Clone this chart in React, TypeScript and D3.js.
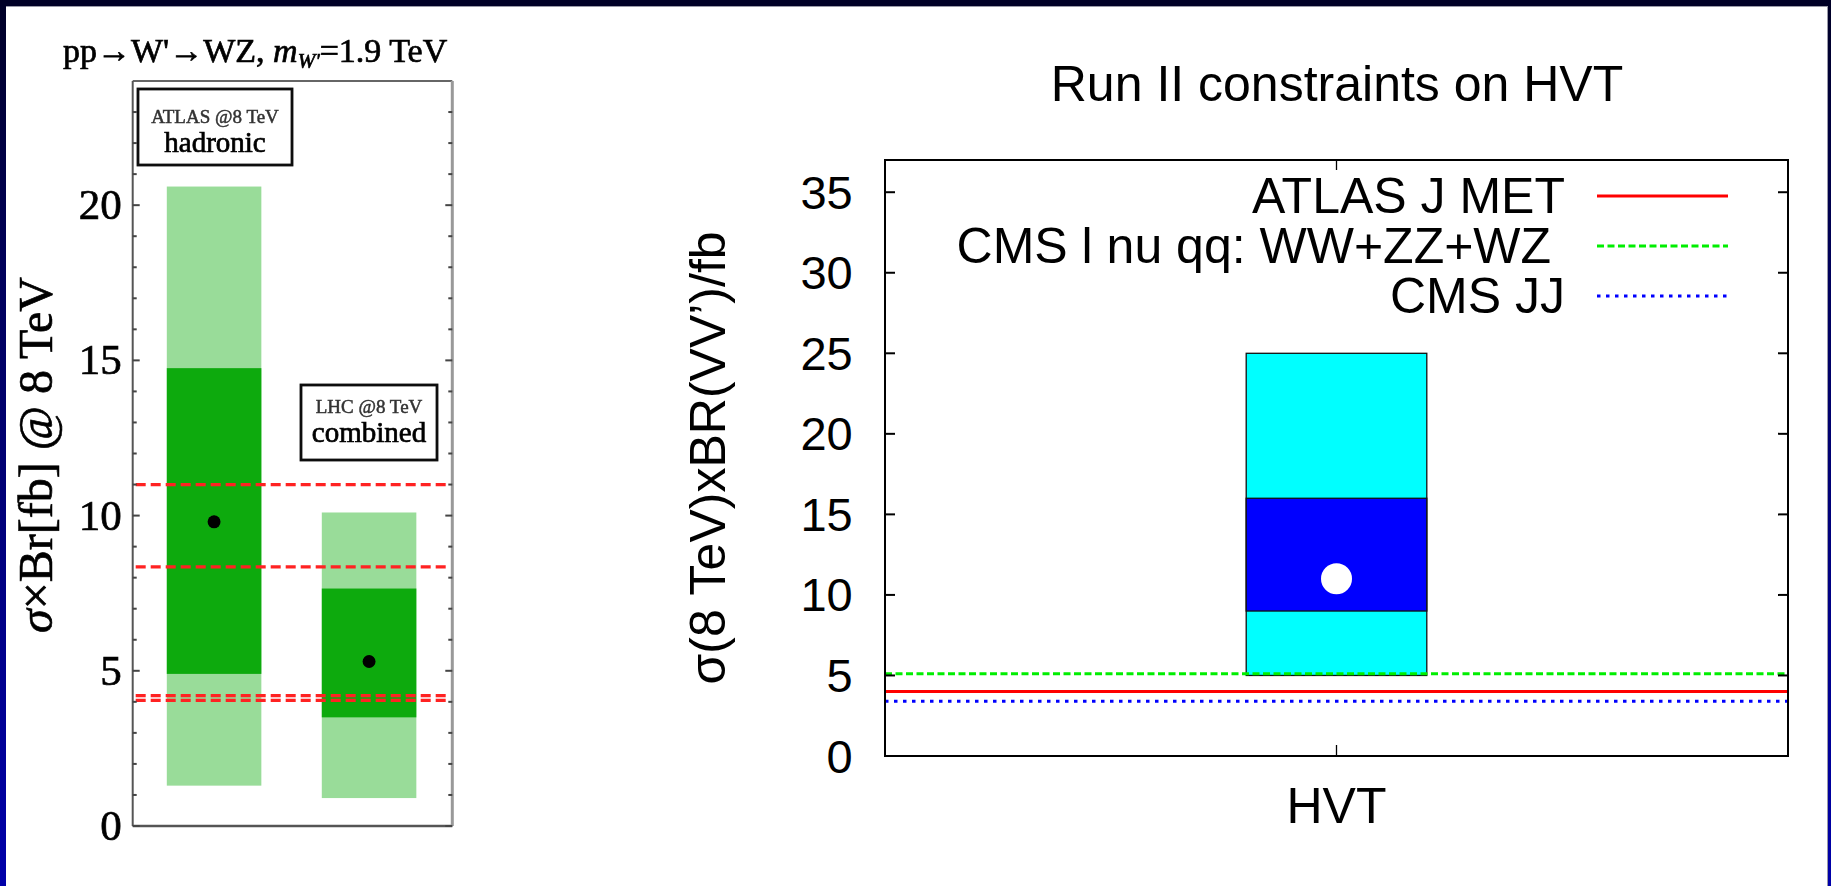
import React from "react";
import * as d3 from "d3";

const W = 1831;
const H = 886;

// ---- Left panel: pp -> W' -> WZ, m_W' = 1.9 TeV (sigma x Br in fb at 8 TeV) ----
const wzPositions = [1, 2];
const wzTagTop = ["ATLAS @8 TeV", "LHC @8 TeV"];
const wzTagBottom = ["hadronic", "combined"];
const wzOuterLow = [1.3, 0.9];
const wzOuterHigh = [20.6, 10.1];
const wzInnerLow = [4.9, 3.5];
const wzInnerHigh = [14.75, 7.65];
const wzCentral = [9.8, 5.3];
const wzLimitLines = [11.0, 8.35, 4.2, 4.05];
const wzMajorTicks = [0, 5, 10, 15, 20];

// ---- Right panel: Run II constraints on HVT ----
const hvtCategories = ["HVT"];
const hvtPositions = [1];
const hvtOuterLow = [5];
const hvtOuterHigh = [25];
const hvtInnerLow = [9];
const hvtInnerHigh = [16];
const hvtCentral = [11];
const limitNames = ["ATLAS J MET", "CMS l nu qq: WW+ZZ+WZ ", "CMS JJ"];
const limitValues = [4.0, 5.1, 3.4];
const hvtTicks = [0, 5, 10, 15, 20, 25, 30, 35];

const limitColors = ["#ff0000", "#00ee00", "#0000ff"];
const limitDash = [undefined, "7,3.5", "3.5,5.5"];

const serif = "'Liberation Serif', 'Times New Roman', serif";
const sans = "'Liberation Sans', Arial, Helvetica, sans-serif";

export default function App() {
  // left panel scales
  const yL = d3.scaleLinear().domain([0, 24]).range([826, 81]);
  const xL = d3.scaleLinear().domain([0.475, 2.537]).range([132.7, 452.3]);
  const halfL = 0.305;
  const minorL = d3.range(1, 24).filter((v) => v % 5 !== 0);
  const [lx0, lx1] = xL.range();
  const [ly0, ly1] = yL.range();

  // right panel scales
  const yR = d3.scaleLinear().domain([0, 37]).range([756, 160]);
  const xR = d3.scaleLinear().domain([0, 2]).range([885, 1788]);
  const halfR = 0.2;
  const [rx0, rx1] = xR.range();
  const [ry0, ry1] = yR.range();

  // annotation boxes of the left panel
  const tagBoxes = [
    { x: 138, y: 89, w: 154, h: 76, t1: 123, t2: 152 },
    { x: 301, y: 385, w: 136, h: 75, t1: 413, t2: 442 },
  ];

  const legendTextX = 1565;
  const legendBase = [213, 263, 313];
  const legendLine = [1597, 1728];

  // the raster-like left plot uses slightly heavier glyphs
  const heavy = { stroke: "#000", strokeWidth: 0.7 };

  return (
    <svg
      width={W}
      height={H}
      viewBox={`0 0 ${W} ${H}`}
      style={{ position: "absolute", left: 0, top: 0, display: "block" }}
    >
      <defs>
        <linearGradient id="edge" x1="0" y1="0" x2="0" y2="1">
          <stop offset="0" stopColor="#000026" />
          <stop offset="0.3" stopColor="#00005a" />
          <stop offset="1" stopColor="#0000aa" />
        </linearGradient>
        <filter id="soft" x="-5%" y="-5%" width="110%" height="110%">
          <feGaussianBlur stdDeviation="0.6" />
        </filter>
      </defs>

      <rect x={0} y={0} width={W} height={H} fill="#ffffff" />

      {/* ---------------- left panel ---------------- */}
      <g filter="url(#soft)">
        <text x={63} y={62} fontFamily={serif} fontSize={34} fill="#000" {...heavy}>
          pp→W'→WZ,{" "}
          <tspan fontStyle="italic">m</tspan>
          <tspan fontStyle="italic" fontSize={21} dy={6}>
            W'
          </tspan>
          <tspan dy={-6}>=1.9 TeV</tspan>
        </text>

        {wzPositions.map((p, i) => (
          <g key={"wz" + i}>
            <rect
              x={xL(p - halfL)}
              width={xL(p + halfL) - xL(p - halfL)}
              y={yL(wzOuterHigh[i])}
              height={yL(wzOuterLow[i]) - yL(wzOuterHigh[i])}
              fill="#99dc99"
            />
            <rect
              x={xL(p - halfL)}
              width={xL(p + halfL) - xL(p - halfL)}
              y={yL(wzInnerHigh[i])}
              height={yL(wzInnerLow[i]) - yL(wzInnerHigh[i])}
              fill="#10aa10"
            />
          </g>
        ))}

        {wzLimitLines.map((v, i) => (
          <line
            key={"lim" + i}
            x1={lx0 + 3}
            x2={lx1 - 2}
            y1={yL(v)}
            y2={yL(v)}
            stroke="#ff2222"
            strokeWidth={3.2}
            strokeDasharray="10,5"
          />
        ))}

        {wzPositions.map((p, i) => (
          <circle key={"c" + i} cx={xL(p)} cy={yL(wzCentral[i])} r={6.5} fill="#000" />
        ))}

        {/* frame */}
        <line x1={lx0} x2={lx1} y1={ly1} y2={ly1} stroke="#666" strokeWidth={2} />
        <line x1={lx0} x2={lx1} y1={ly0} y2={ly0} stroke="#555" strokeWidth={2.5} />
        <line x1={lx0} x2={lx0} y1={ly1} y2={ly0} stroke="#555" strokeWidth={2} />
        <line x1={lx1} x2={lx1} y1={ly1} y2={ly0} stroke="#999" strokeWidth={3} />

        {wzMajorTicks.map((v) => (
          <g key={"mt" + v}>
            <line x1={lx0} x2={lx0 + 7} y1={yL(v)} y2={yL(v)} stroke="#444" strokeWidth={2} />
            <line x1={lx1 - 7} x2={lx1} y1={yL(v)} y2={yL(v)} stroke="#444" strokeWidth={2} />
            <text
              x={121.7}
              y={yL(v) + 14}
              textAnchor="end"
              fontFamily={serif}
              fontSize={43}
              fill="#000"
              {...heavy}
            >
              {v}
            </text>
          </g>
        ))}
        {minorL.map((v) => (
          <g key={"mn" + v}>
            <line x1={lx0} x2={lx0 + 4} y1={yL(v)} y2={yL(v)} stroke="#444" strokeWidth={2} />
            <line x1={lx1 - 4} x2={lx1} y1={yL(v)} y2={yL(v)} stroke="#444" strokeWidth={2} />
          </g>
        ))}

        <text
          transform={`translate(52, 455) rotate(-90)`}
          textAnchor="middle"
          fontFamily={serif}
          fontSize={48}
          fill="#000"
          {...heavy}
        >
          <tspan fontStyle="italic">σ</tspan>×Br[fb] @ 8 TeV
        </text>

        {tagBoxes.map((b, i) => (
          <g key={"tag" + i}>
            <rect
              x={b.x}
              y={b.y}
              width={b.w}
              height={b.h}
              fill="#fff"
              stroke="#111"
              strokeWidth={2.8}
            />
            <text
              x={b.x + b.w / 2}
              y={b.t1}
              textAnchor="middle"
              fontFamily={serif}
              fontSize={19}
              fill="#333"
              stroke="#333"
              strokeWidth={0.5}
            >
              {wzTagTop[i]}
            </text>
            <text
              x={b.x + b.w / 2}
              y={b.t2}
              textAnchor="middle"
              fontFamily={serif}
              fontSize={29}
              fill="#000"
              {...heavy}
            >
              {wzTagBottom[i]}
            </text>
          </g>
        ))}
      </g>

      {/* ---------------- right panel ---------------- */}
      <text x={1337} y={100.5} textAnchor="middle" fontFamily={sans} fontSize={50} fill="#000">
        Run II constraints on HVT
      </text>

      {hvtPositions.map((p, i) => (
        <g key={"hvt" + i}>
          <rect
            x={xR(p - halfR)}
            width={xR(p + halfR) - xR(p - halfR)}
            y={yR(hvtOuterHigh[i])}
            height={yR(hvtOuterLow[i]) - yR(hvtOuterHigh[i])}
            fill="#00ffff"
            stroke="#111"
            strokeWidth={1.3}
          />
          <rect
            x={xR(p - halfR)}
            width={xR(p + halfR) - xR(p - halfR)}
            y={yR(hvtInnerHigh[i])}
            height={yR(hvtInnerLow[i]) - yR(hvtInnerHigh[i])}
            fill="#0000ff"
            stroke="#111"
            strokeWidth={1.3}
          />
          <circle cx={xR(p)} cy={yR(hvtCentral[i])} r={15.5} fill="#ffffff" />
        </g>
      ))}

      {limitValues.map((v, i) => (
        <line
          key={"hl" + i}
          x1={rx0}
          x2={rx1}
          y1={yR(v)}
          y2={yR(v)}
          stroke={limitColors[i]}
          strokeWidth={3}
          strokeDasharray={limitDash[i]}
        />
      ))}

      {/* frame, ticks */}
      <rect
        x={rx0}
        y={ry1}
        width={rx1 - rx0}
        height={ry0 - ry1}
        fill="none"
        stroke="#000"
        strokeWidth={2}
      />
      {hvtTicks.map((v) => (
        <g key={"rt" + v}>
          {v > 0 && (
            <>
              <line x1={rx0} x2={rx0 + 10} y1={yR(v)} y2={yR(v)} stroke="#000" strokeWidth={2} />
              <line x1={rx1 - 10} x2={rx1} y1={yR(v)} y2={yR(v)} stroke="#000" strokeWidth={2} />
            </>
          )}
          <text
            x={852.7}
            y={yR(v) + 16.5}
            textAnchor="end"
            fontFamily={sans}
            fontSize={47}
            fill="#000"
          >
            {v}
          </text>
        </g>
      ))}
      {hvtPositions.map((p, i) => (
        <g key={"xt" + i}>
          <line x1={xR(p)} x2={xR(p)} y1={ry1} y2={ry1 + 10} stroke="#000" strokeWidth={1.3} />
          <line x1={xR(p)} x2={xR(p)} y1={ry0 - 11} y2={ry0} stroke="#000" strokeWidth={1.3} />
          <text x={xR(p)} y={823} textAnchor="middle" fontFamily={sans} fontSize={50} fill="#000">
            {hvtCategories[i]}
          </text>
        </g>
      ))}

      <text
        transform={`translate(724.5, 458) rotate(-90)`}
        textAnchor="middle"
        fontFamily={sans}
        fontSize={50}
        fill="#000"
      >
        σ(8 TeV)xBR(VV’)/fb
      </text>

      {/* legend */}
      {limitNames.map((name, i) => (
        <g key={"lg" + i}>
          <text
            x={legendTextX}
            y={legendBase[i]}
            textAnchor="end"
            fontFamily={sans}
            fontSize={50}
            fill="#000"
            xmlSpace="preserve"
            style={{ whiteSpace: "pre" }}
          >
            {name}
          </text>
          <line
            x1={legendLine[0]}
            x2={legendLine[1]}
            y1={legendBase[i] - 17}
            y2={legendBase[i] - 17}
            stroke={limitColors[i]}
            strokeWidth={3}
            strokeDasharray={limitDash[i]}
          />
        </g>
      ))}

      {/* slide edges */}
      <rect x={0} y={0} width={W} height={6} fill="#000026" />
      <rect x={0} y={0} width={6} height={H} fill="url(#edge)" />
      <rect x={W - 3} y={0} width={3} height={H} fill="url(#edge)" />
      <line x1={6} x2={W - 3} y1={6.5} y2={6.5} stroke="#9a9aa8" strokeWidth={1} />
      <line x1={W - 3.5} x2={W - 3.5} y1={6} y2={H} stroke="#9a9aa8" strokeWidth={1} />
    </svg>
  );
}
